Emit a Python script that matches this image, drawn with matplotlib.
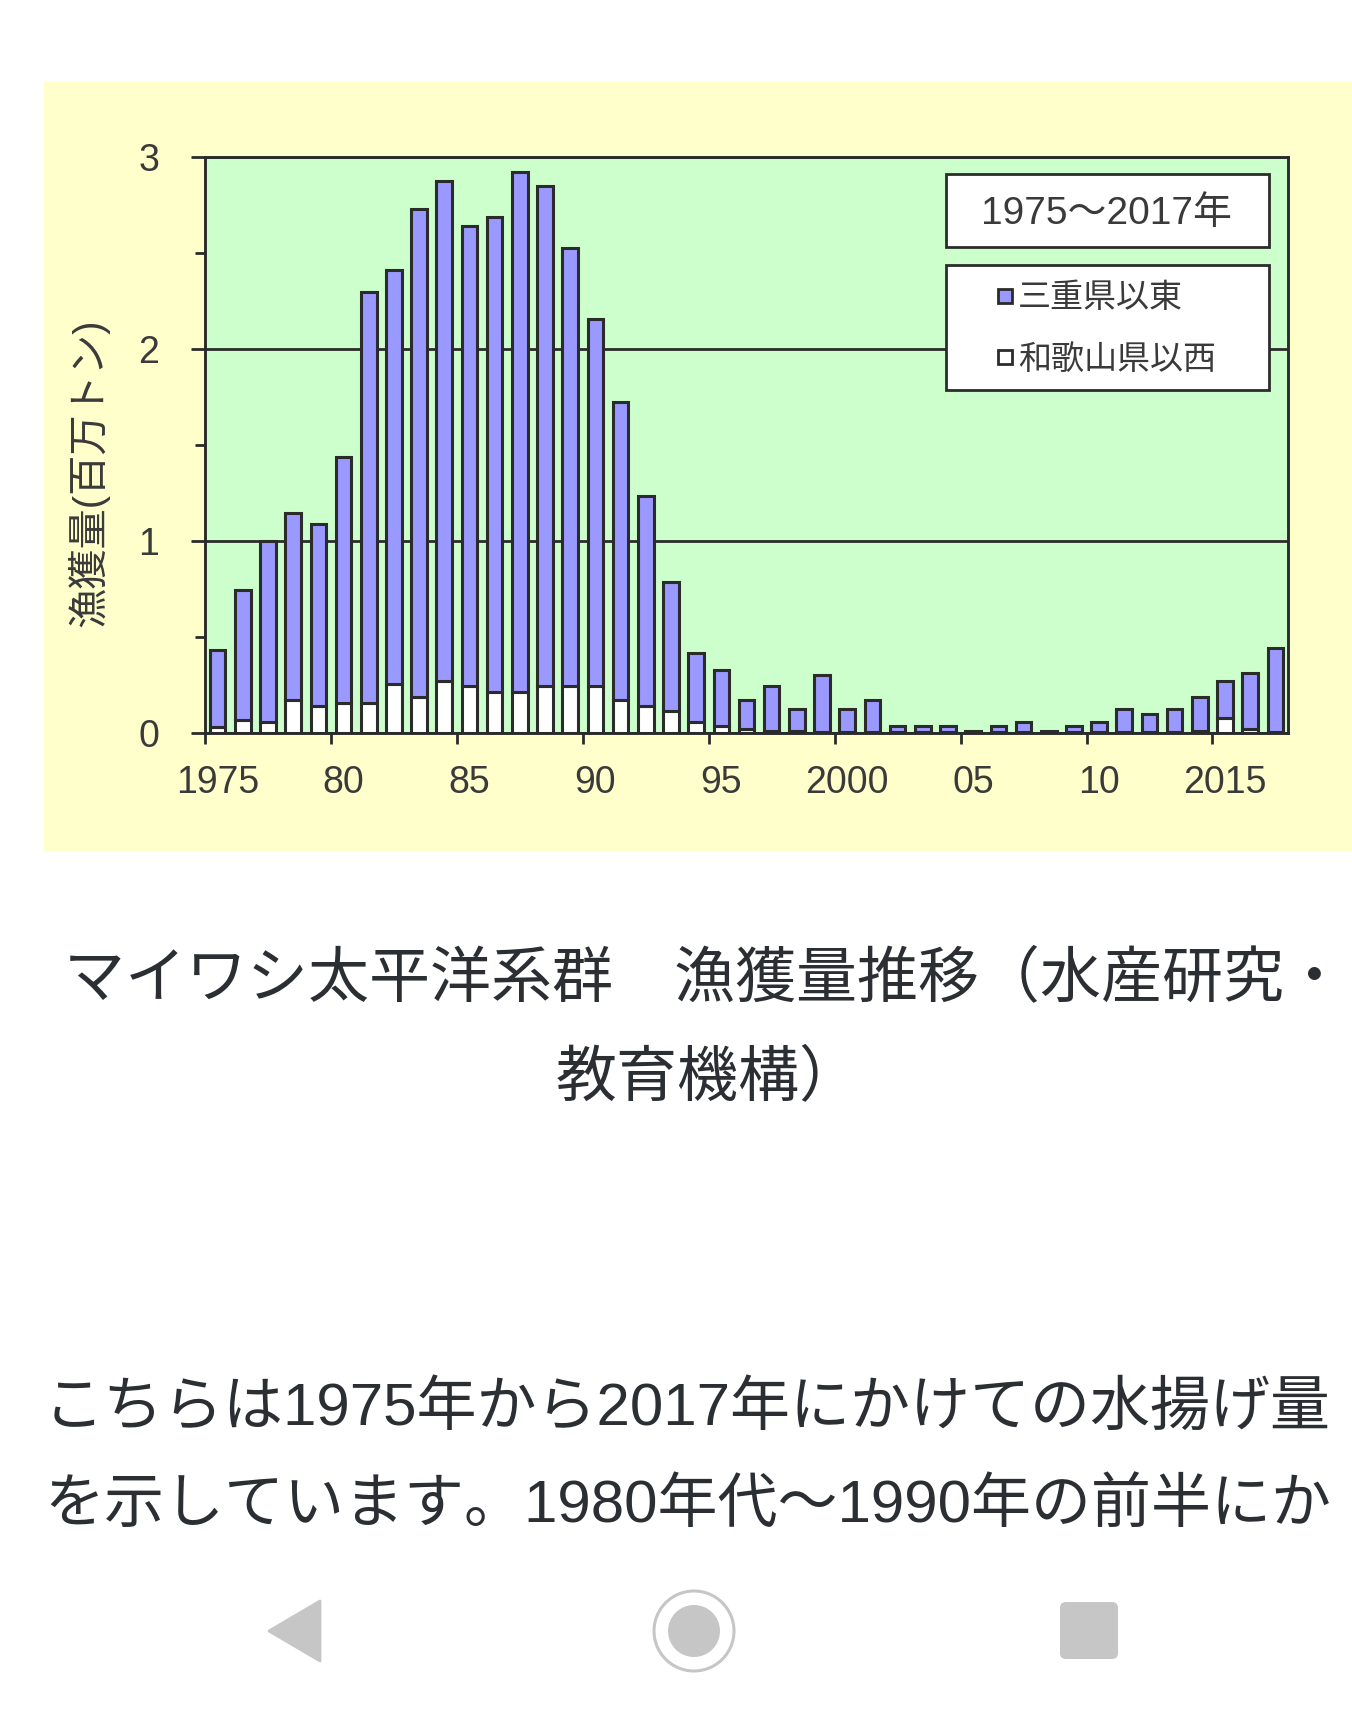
import matplotlib
matplotlib.use('Agg')
import matplotlib.pyplot as plt
from matplotlib.patches import Rectangle, Circle, Polygon, FancyBboxPatch
from matplotlib.ticker import FixedLocator, FixedFormatter

plt.rcParams['font.family'] = ['Liberation Sans', 'Noto Sans CJK JP', 'DejaVu Sans']

W, H = 1352, 1723

years = list(range(1975, 2018))
# total catch and the part caught west of Wakayama (million tons)
total = [0.43, 0.745, 1.0, 1.147, 1.087, 1.435, 2.297, 2.414, 2.73, 2.873,
         2.642, 2.686, 2.92, 2.847, 2.525, 2.154, 1.723, 1.235, 0.786, 0.415,
         0.327, 0.171, 0.244, 0.127, 0.30, 0.127, 0.171, 0.039, 0.039, 0.039,
         0.013, 0.039, 0.055, 0.013, 0.039, 0.055, 0.127, 0.099, 0.127, 0.187,
         0.27, 0.314, 0.444]
west = [0.03, 0.07, 0.055, 0.17, 0.143, 0.156, 0.156, 0.254, 0.187, 0.27,
        0.247, 0.215, 0.215, 0.247, 0.247, 0.247, 0.171, 0.143, 0.112, 0.055,
        0.034, 0.023, 0.008, 0.008, 0.005, 0.005, 0.005, 0.003, 0.003, 0.003,
        0.002, 0.003, 0.003, 0.002, 0.003, 0.003, 0.005, 0.005, 0.005, 0.01,
        0.078, 0.023, 0.005]
east = [t - w for t, w in zip(total, west)]

year_labels = ['1975', '80', '85', '90', '95', '2000', '05', '10', '2015']
y_labels = ['0', '1', '2', '3']
legend_title = '1975～2017年'
series_names = ['三重県以東', '和歌山県以西']
ylabel = '漁獲量(百万トン)'
caption = ['マイワシ太平洋系群　漁獲量推移（水産研究・', '教育機構）']
body = ['こちらは1975年から2017年にかけての水揚げ量', 'を示しています。1980年代～1990年の前半にか']

DARK = '#2b2b2b'
TEXT = '#3a3a3a'
PAGE_TEXT = '#2b2f33'
BLUE = '#9999ff'
NAV = '#c6c6c6'


def fx(x):
    return x / W


def fy(y):
    return 1 - y / H


def box(x0, y0, x1, y1, **kw):
    # rectangle given in picture pixels
    return Rectangle((fx(x0), fy(y1)), (x1 - x0) / W, (y1 - y0) / H, transform=fig.transFigure, **kw)


fig = plt.figure(figsize=(W / 100, H / 100), dpi=100, facecolor='white')

# yellow panel behind the chart
fig.add_artist(box(44, 82, 1352, 851, facecolor='#ffffcc', edgecolor='none', zorder=0))

ax = fig.add_axes([fx(205), fy(733), (1288 - 205) / W, (733 - 157) / H], facecolor='#ccffcc', zorder=2)
pos = range(len(years))
ax.bar(pos, west, width=0.62, color='white', edgecolor=DARK, linewidth=2.2, zorder=3)
ax.bar(pos, east, width=0.62, bottom=west, color=BLUE, edgecolor=DARK, linewidth=2.2, zorder=3)
ax.set_xlim(-0.5, len(years) - 0.5)
ax.set_ylim(0, 3)

ax.yaxis.set_major_locator(FixedLocator([0, 1, 2, 3]))
ax.yaxis.set_major_formatter(FixedFormatter(y_labels))
ax.yaxis.set_minor_locator(FixedLocator([0.5, 1.5, 2.5]))
ax.grid(axis='y', which='major', color=DARK, linewidth=2.0, zorder=1)
ax.set_axisbelow(True)

# ticks sit between the bars, labels under the first bar of each group
group_starts = [i * 5 for i in range(len(year_labels))]
ax.xaxis.set_major_locator(FixedLocator([i - 0.5 for i in group_starts]))
ax.xaxis.set_major_formatter(FixedFormatter([''] * len(year_labels)))
ax.xaxis.set_minor_locator(FixedLocator(group_starts))
ax.xaxis.set_minor_formatter(FixedFormatter(year_labels))
ax.tick_params(axis='x', which='major', length=8, width=2.0, color=DARK)
ax.tick_params(axis='x', which='minor', length=0, pad=23, labelsize=27, labelcolor=TEXT)
ax.tick_params(axis='y', which='major', length=10, width=2.0, color=DARK, pad=23, labelsize=27, labelcolor=TEXT)
ax.tick_params(axis='y', which='minor', length=7, width=2.0, color=DARK)
for s in ax.spines.values():
    s.set_color(DARK)
    s.set_linewidth(2.1)

fig.text(fx(88), fy(473), ylabel, rotation=90, ha='center', va='center', fontsize=29, color=TEXT)

# legend boxes
fig.add_artist(box(946, 174, 1269, 247, facecolor='white', edgecolor=DARK, linewidth=2.0, zorder=5))
fig.add_artist(box(946, 265, 1269, 390, facecolor='white', edgecolor=DARK, linewidth=2.0, zorder=5))
fig.text(fx(1106), fy(214), legend_title, ha='center', va='center', fontsize=28, color=TEXT, zorder=6)
for name, col, yy in zip(series_names, [BLUE, 'white'], [296, 357]):
    fig.add_artist(box(998, yy - 7, 1012, yy + 7, facecolor=col, edgecolor=DARK, linewidth=2.0, zorder=6))
    fig.text(fx(1018), fy(yy + 3), name, ha='left', va='center', fontsize=23.8, color=TEXT, zorder=6)

# page text below the chart
fig.text(fx(704), fy(981), caption[0], ha='center', va='center', fontsize=43.9, color=PAGE_TEXT)
fig.text(fx(708), fy(1080), caption[1], ha='center', va='center', fontsize=43.9, color=PAGE_TEXT)
fig.text(fx(44), fy(1409), body[0], ha='left', va='center', fontsize=43.2, color=PAGE_TEXT)
fig.text(fx(44), fy(1506), body[1], ha='left', va='center', fontsize=43.2, color=PAGE_TEXT)

# phone navigation bar
tri = [(fx(320), fy(1601)), (fx(320), fy(1661)), (fx(269), fy(1631))]
fig.add_artist(Polygon(tri, closed=True, transform=fig.transFigure, facecolor=NAV, edgecolor=NAV,
                       linewidth=2, joinstyle='round'))
nav_ax = fig.add_axes([0, 0, 1, 1], facecolor='none', zorder=1)
nav_ax.set_xlim(0, W)
nav_ax.set_ylim(H, 0)
nav_ax.axis('off')
nav_ax.add_patch(Circle((694, 1631), 40, facecolor='none', edgecolor=NAV, linewidth=2.2))
nav_ax.add_patch(Circle((694, 1631), 26, facecolor=NAV, edgecolor='none'))
nav_ax.add_patch(FancyBboxPatch((1066, 1608), 46, 45, boxstyle='round,pad=6', facecolor=NAV, edgecolor='none'))

fig.savefig('out.png', dpi=100)
